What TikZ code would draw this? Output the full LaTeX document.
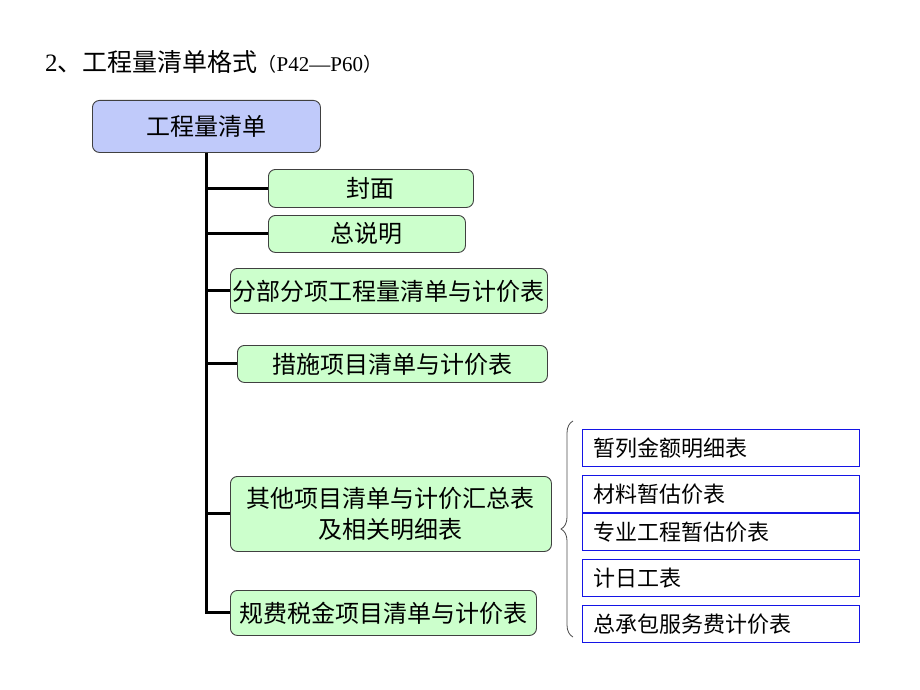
\documentclass[tikz,border=0pt]{standalone}
\usepackage{fontspec}
\setmainfont{Noto Sans CJK SC}
\newfontfamily\latinfont{Liberation Serif}
\usetikzlibrary{decorations.pathreplacing}

\definecolor{rootblue}{RGB}{192,202,250}
\definecolor{leafgreen}{RGB}{204,255,204}
\definecolor{listblue}{RGB}{20,20,230}

\begin{document}
\begin{tikzpicture}[x=1pt,y=-1pt,
    rootbox/.style={draw=black!75, fill=rootblue, rounded corners=7pt, line width=0.9pt,
      anchor=north west, inner xsep=2pt, font=\fontsize{24}{28}\selectfont},
    leafbox/.style={draw=black!75, fill=leafgreen, rounded corners=7pt, line width=0.9pt,
      anchor=north west, inner xsep=2pt, align=center, font=\fontsize{24}{31}\selectfont},
    listbox/.style={draw=listblue, line width=1pt, anchor=north west, minimum width=277,
      minimum height=37, text width=255, inner xsep=11pt, align=left,
      font=\fontsize{22}{26}\selectfont},
    branch/.style={line width=3pt, black}]
			\useasboundingbox (0,0) rectangle (920,690);
			
			% Title
			\node[anchor=base west, inner sep=0pt] (title) at (45,72)
			  {\fontsize{25}{28}\selectfont{\latinfont 2}、工程量清单格式\fontsize{19}{22}\selectfont（{\latinfont\fontsize{21}{22}\selectfont P42—P60}）};
			
			% Root box
			\node[rootbox, minimum width=228, minimum height=52] (root) at (92,100) {工程量清单};
			
			% Parts of the bill
			\node[leafbox, minimum width=205, minimum height=38] (cover) at (268,169) {封面};
			\node[leafbox, minimum width=197, minimum height=37] (notes) at (268,215) {总说明};
			\node[leafbox, minimum width=317, minimum height=45] (fbfx) at (230,268) {分部分项工程量清单与计价表};
			\node[leafbox, minimum width=310, minimum height=37] (measures) at (237,345) {措施项目清单与计价表};
			\node[leafbox, minimum width=321, minimum height=75] (others) at (230,476) {其他项目清单与计价汇总表\\及相关明细表};
			\node[leafbox, minimum width=306, minimum height=45] (fees) at (230,590) {规费税金项目清单与计价表};
			
			% Branches from the root
			\foreach \part in {cover,notes,fbfx,measures,others,fees}
			  \draw[branch] (root.south) |- (\part.west);
			
			% Detail tables of the other items
			\node[listbox] (provisional) at (582,429) {暂列金额明细表};
			\node[listbox] (material) at (582,475) {材料暂估价表};
			\node[listbox] (special) at (582,513) {专业工程暂估价表};
			\node[listbox] (daywork) at (582,559) {计日工表};
			\node[listbox] (service) at (582,605) {总承包服务费计价表};
			
			% Brace grouping the detail tables
			\coordinate (brbot) at (573,637);
			\coordinate (brtop) at (573,421);
			\draw[black!70, line width=0.8pt, decorate, decoration={brace, amplitude=12pt}] (brbot) -- (brtop);
			
		\end{tikzpicture}
\end{document}
